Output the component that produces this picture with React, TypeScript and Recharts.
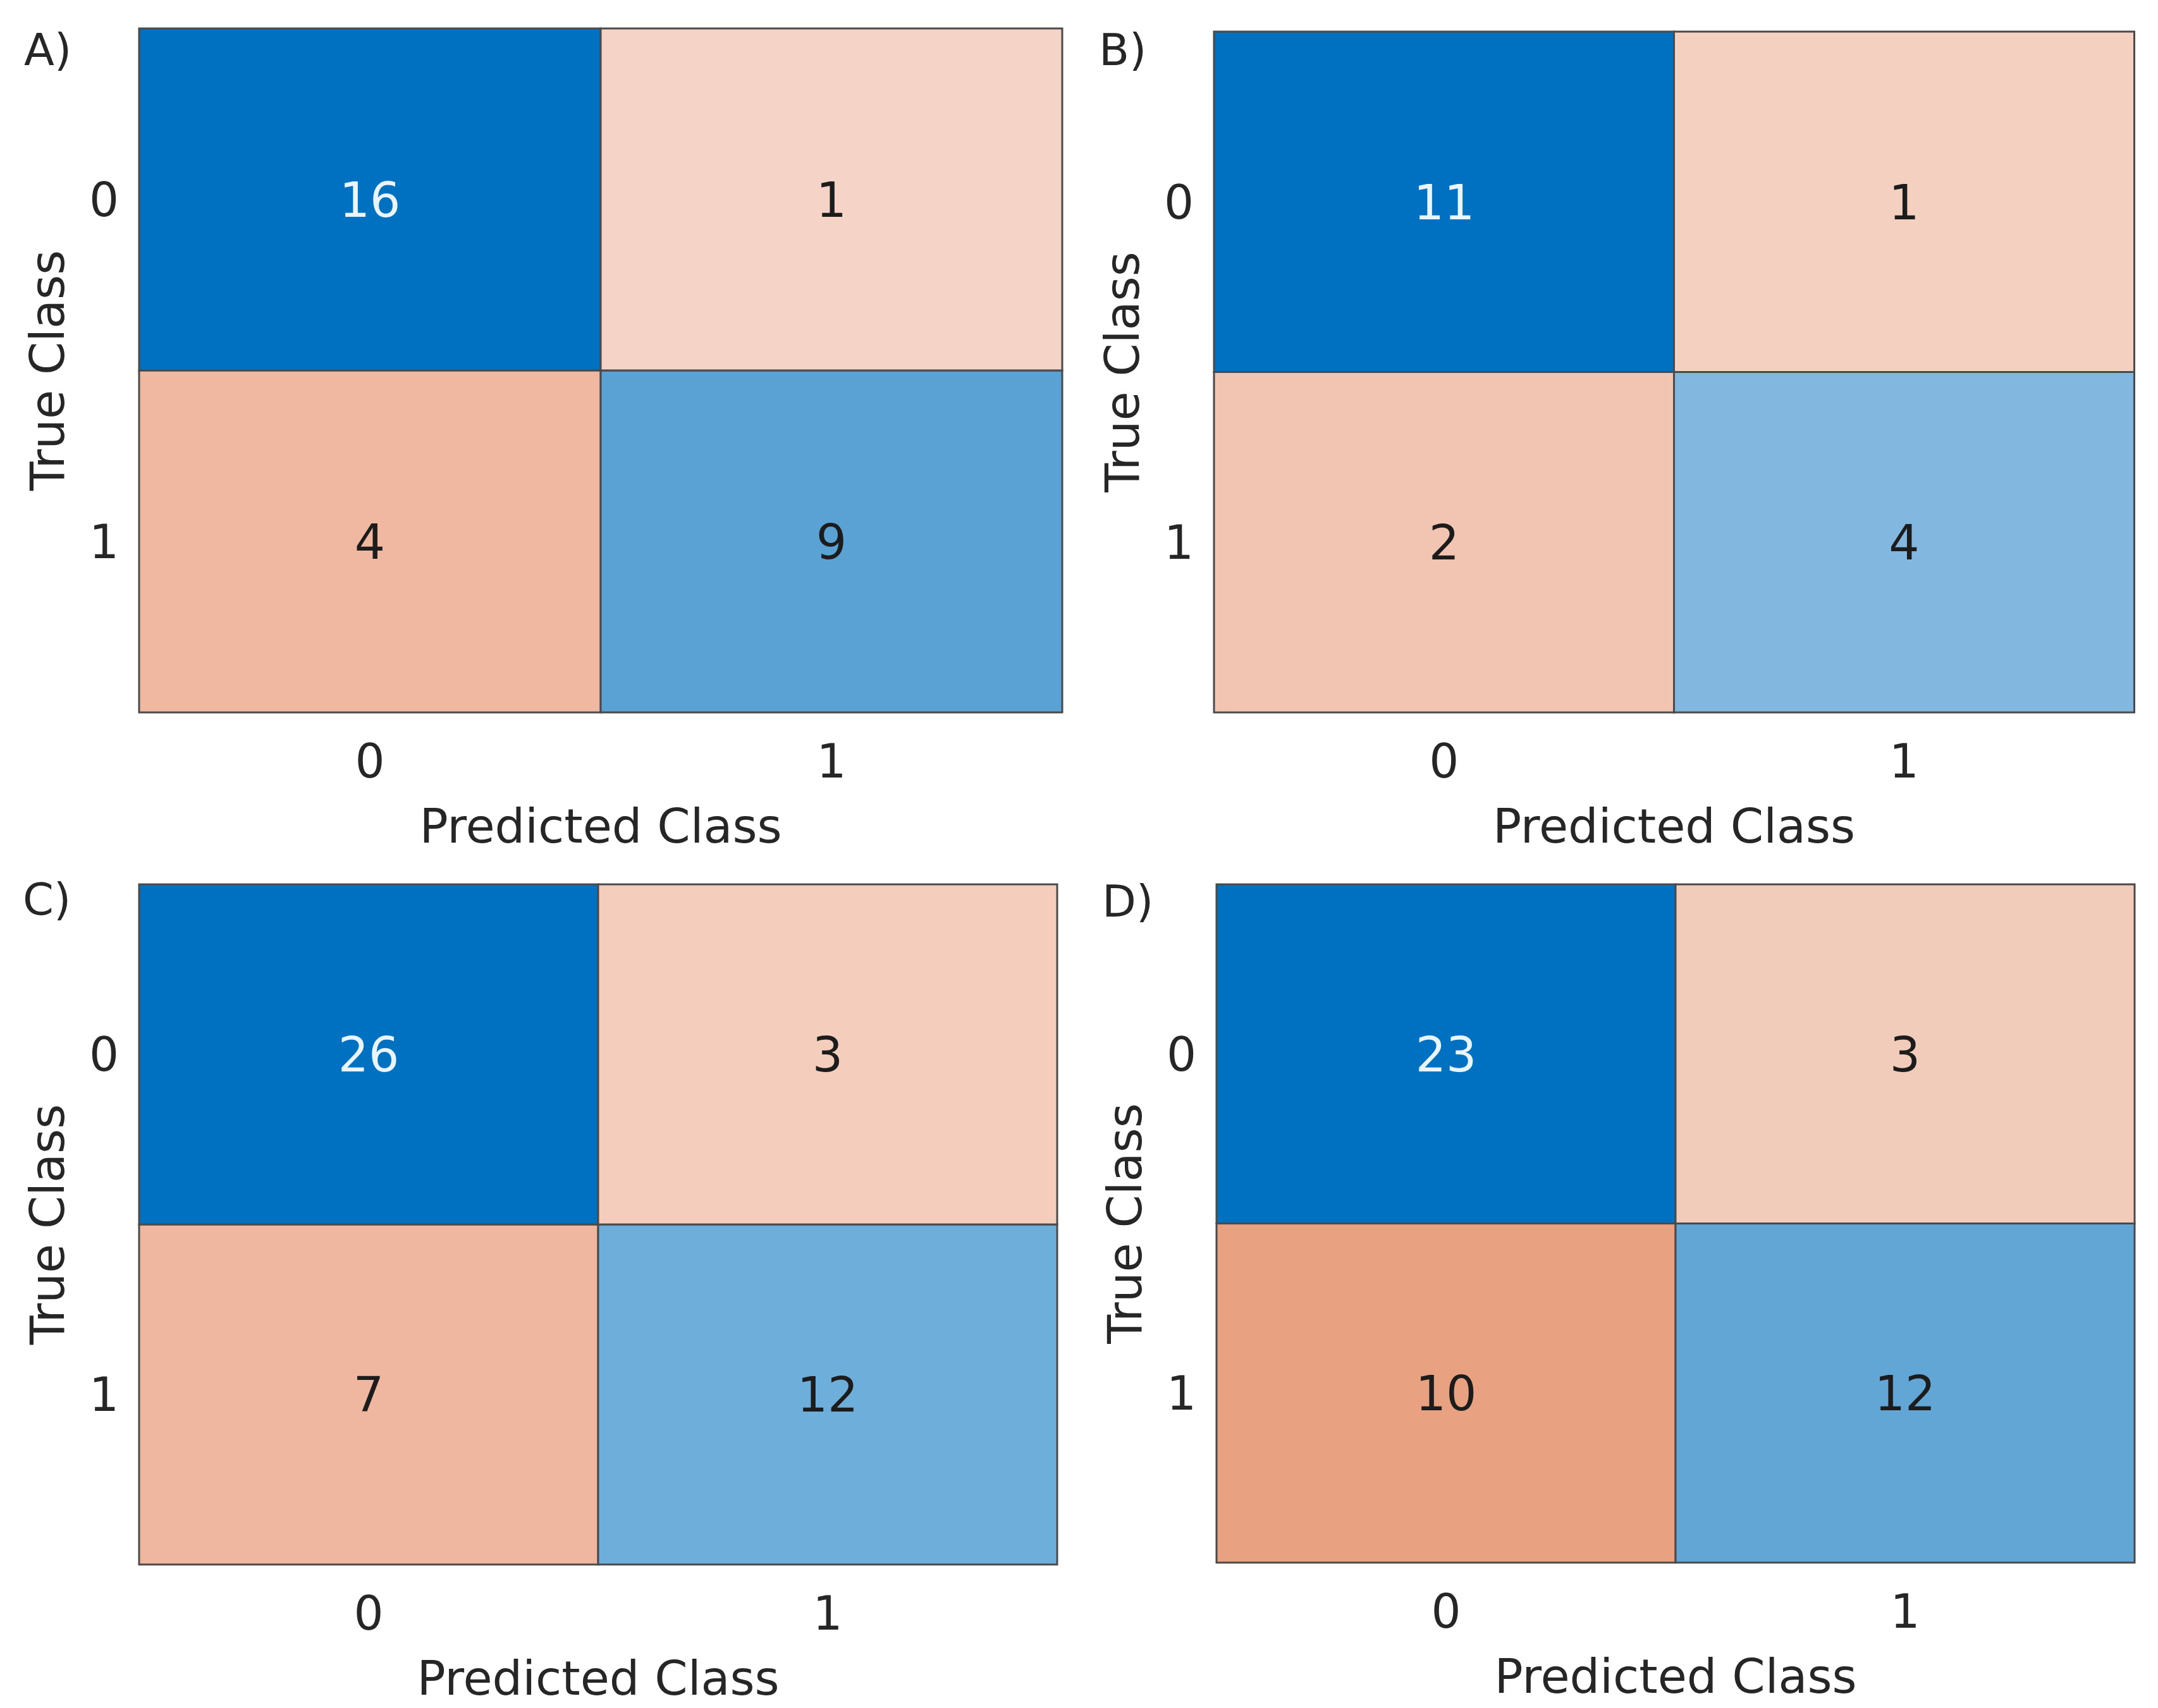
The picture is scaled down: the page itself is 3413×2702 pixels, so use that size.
import React from 'react';
import { Bar, BarChart, Cell, Label, LabelList, XAxis, YAxis } from 'recharts';

// class labels
const predictedClasses = ['0', '1'];
const trueClasses = ['0', '1'];

// counts[trueClass][predictedClass]
const countsA = [[16, 1], [4, 9]];
const countsB = [[11, 1], [2, 4]];
const countsC = [[26, 3], [7, 12]];
const countsD = [[23, 3], [10, 12]];

// cell colours, same layout as the counts
const colorsA = [['#0070C0', '#F5D3C6'], ['#F0B8A0', '#5AA1D4']];
const colorsB = [['#0070C0', '#F4D0C1'], ['#F2C4B2', '#82B8DF']];
const colorsC = [['#0070C0', '#F4CDBD'], ['#F0B7A0', '#6DAEDB']];
const colorsD = [['#0070C0', '#F2CCBA'], ['#E8A282', '#62A6D6']];

const FONT = '"DejaVu Sans", sans-serif';
const TEXT = '#262626';
const EDGE = '#4a4a4a';
const Y_W = 80;
const X_H = 230;

const buildRows = (counts: number[][]) =>
  predictedClasses.map((p, col) => ({
    pred: p,
    row1: 1,
    row0: 1,
    count1: counts[1][col],
    count0: counts[0][col],
  }));

interface PanelProps {
  tag: string;
  counts: number[][];
  colors: string[][];
  plot: { l: number; r: number; t: number; b: number };
  tagPos: { x: number; y: number };
}

const Panel: React.FC<PanelProps> = ({ tag, counts, colors, plot, tagPos }) => {
  const data = buildRows(counts);
  const left = plot.l - 220;
  const top = plot.t - 45;
  const width = plot.r - plot.l + 240;
  const height = plot.b - plot.t + 45 + X_H;

  const renderCount = (row: number) => (props: any) => {
    const x = Number(props.x);
    const y = Number(props.y);
    const w = Number(props.width);
    const h = Number(props.height);
    const col = props.index;
    const light = row === 0 && col === 0;
    return (
      <text
        x={x + w / 2}
        y={y + h / 2}
        dy="0.36em"
        textAnchor="middle"
        fontFamily={FONT}
        fontSize={76}
        fill={light ? '#EAF4FC' : '#1c1c1c'}
      >
        {props.value}
      </text>
    );
  };

  const xLabel = (props: any) => {
    const vb = props.viewBox || {};
    return (
      <text x={vb.x + vb.width / 2} y={vb.y + 206} textAnchor="middle" fontFamily={FONT} fontSize={75} fill={TEXT}>
        Predicted Class
      </text>
    );
  };

  const yLabel = (props: any) => {
    const vb = props.viewBox || {};
    const cx = vb.x + vb.width - 146;
    const cy = vb.y + vb.height / 2;
    return (
      <text
        x={cx}
        y={cy}
        dy="0.36em"
        transform={`rotate(-90 ${cx} ${cy})`}
        textAnchor="middle"
        fontFamily={FONT}
        fontSize={75}
        fill={TEXT}
      >
        True Class
      </text>
    );
  };

  return (
    <>
      <div
        style={{
          position: 'absolute',
          left: tagPos.x,
          top: tagPos.y - 7,
          fontFamily: FONT,
          fontSize: 70,
          lineHeight: 1,
          color: TEXT,
        }}
      >
        {tag}
      </div>
      <div style={{ position: 'absolute', left, top }}>
        <BarChart
          width={width}
          height={height}
          data={data}
          margin={{ top: 45, right: 20, left: 220 - Y_W, bottom: 0 }}
          barCategoryGap={0}
          barGap={0}
        >
          <XAxis
            dataKey="pred"
            type="category"
            height={X_H}
            axisLine={false}
            tickLine={false}
            tickSize={0}
            tickMargin={50}
            tick={{ fontFamily: FONT, fontSize: 74, fill: TEXT }}
            label={<Label content={xLabel} />}
          />
          <YAxis
            type="number"
            domain={[0, 2]}
            ticks={[0.5, 1.5]}
            tickFormatter={(v: number) => (v > 1 ? trueClasses[0] : trueClasses[1])}
            width={Y_W}
            axisLine={false}
            tickLine={false}
            tickSize={0}
            tickMargin={32}
            tick={{ fontFamily: FONT, fontSize: 74, fill: TEXT }}
            label={<Label content={yLabel} />}
          />
          <Bar dataKey="row1" stackId="cm" stroke={EDGE} strokeWidth={3} isAnimationActive={false}>
            {data.map((d, i) => (
              <Cell key={d.pred} fill={colors[1][i]} />
            ))}
            <LabelList dataKey="count1" content={renderCount(1)} />
          </Bar>
          <Bar dataKey="row0" stackId="cm" stroke={EDGE} strokeWidth={3} isAnimationActive={false}>
            {data.map((d, i) => (
              <Cell key={d.pred} fill={colors[0][i]} />
            ))}
            <LabelList dataKey="count0" content={renderCount(0)} />
          </Bar>
        </BarChart>
      </div>
    </>
  );
};

export default function App() {
  return (
    <div style={{ position: 'absolute', left: 0, top: 0, width: 3413, height: 2702, background: '#fff' }}>
      <Panel tag="A)" counts={countsA} colors={colorsA} plot={{ l: 220, r: 1680, t: 45, b: 1127 }} tagPos={{ x: 38, y: 51 }} />
      <Panel tag="B)" counts={countsB} colors={colorsB} plot={{ l: 1920, r: 3375, t: 50, b: 1127 }} tagPos={{ x: 1738, y: 51 }} />
      <Panel tag="C)" counts={countsC} colors={colorsC} plot={{ l: 220, r: 1672, t: 1399, b: 2475 }} tagPos={{ x: 36, y: 1395 }} />
      <Panel tag="D)" counts={countsD} colors={colorsD} plot={{ l: 1924, r: 3376, t: 1399, b: 2472 }} tagPos={{ x: 1743, y: 1398 }} />
    </div>
  );
}
